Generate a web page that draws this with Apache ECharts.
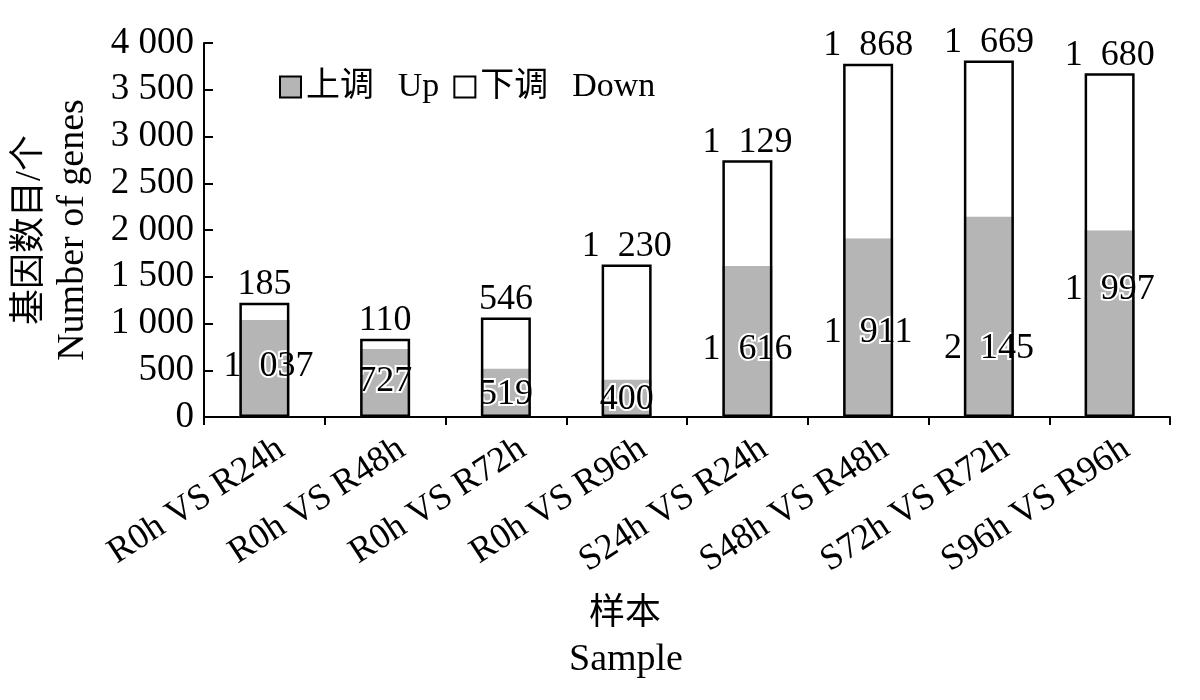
<!DOCTYPE html>
<html><head><meta charset="utf-8">
<script src="https://cdn.jsdelivr.net/npm/echarts@6/dist/echarts.min.js"></script>
<style>html,body{margin:0;padding:0;background:#fff}#c{width:1200px;height:700px}</style>
</head><body><div id="c"></div>
<script>
const categories = ['R0h VS R24h','R0h VS R48h','R0h VS R72h','R0h VS R96h','S24h VS R24h','S48h VS R48h','S72h VS R72h','S96h VS R96h'];
const upValues = [1037, 727, 519, 400, 1616, 1911, 2145, 1997];
const downValues = [185, 110, 546, 1230, 1129, 1868, 1669, 1680];
const yTickValues = [0, 500, 1000, 1500, 2000, 2500, 3000, 3500, 4000];
const yTickLabels = ['0', '500', '1 000', '1 500', '2 000', '2 500', '3 000', '3 500', '4 000'];
const seriesNames = ['上调 Up', '下调 Down'];
const yAxisNameLines = ['基因数目/个', 'Number of genes'];
const xAxisName = ['样本', 'Sample'];

// label placement tweaks (style only)
const upLabelOffsets = [[4, -2], [0, -1], [0, 2], [0, 1], [0, 8], [0, 5], [0, 32], [0, -34]];

const FONT = "'Liberation Serif','Noto Sans CJK SC',serif";
const GRAY = '#b5b5b5';
const SP = '\u2002';
function fmt(v) {
  if (v >= 1000) return Math.floor(v / 1000) + SP + String(v % 1000).padStart(3, '0');
  return String(v);
}
const totals = upValues.map((u, i) => u + downValues[i]);

const chart = echarts.init(document.getElementById('c'));
chart.setOption({
  animation: false,
  backgroundColor: '#fff',
  textStyle: { fontFamily: FONT, color: '#000' },
  grid: { left: 204, right: 30, top: 43, bottom: 283, containLabel: false },
  legend: {
    left: 274, top: 65,
    itemWidth: 21, itemHeight: 21, itemGap: 14,
    icon: 'rect',
    textStyle: { fontFamily: FONT, fontSize: 34, color: '#000' },
    formatter: n => n.replace(' ', '\u2002\u2009'),
    data: [
      { name: seriesNames[0], itemStyle: { color: GRAY, borderColor: '#000', borderWidth: 2 } },
      { name: seriesNames[1], itemStyle: { color: '#fff', borderColor: '#000', borderWidth: 2 } }
    ]
  },
  xAxis: {
    type: 'category',
    data: categories,
    boundaryGap: true,
    axisLine: { show: true, lineStyle: { color: '#000', width: 2 } },
    axisTick: { show: true, interval: 0, length: 8, lineStyle: { color: '#000', width: 2 } },
    axisLabel: {
      interval: 0, rotate: 33, fontSize: 36, fontFamily: FONT, color: '#000',
      margin: 40, padding: [0, -20, 0, 0]
    }
  },
  yAxis: {
    type: 'value',
    min: 0, max: 4000, interval: 500,
    name: '{a|' + yAxisNameLines[0] + '}\n{b|' + yAxisNameLines[1] + '}',
    nameLocation: 'middle',
    nameGap: 110,
    nameRotate: 90,
    nameTextStyle: {
      fontFamily: FONT, color: '#000',
      rich: {
        a: { fontFamily: FONT, fontSize: 36, lineHeight: 42, color: '#000' },
        b: { fontFamily: FONT, fontSize: 38, lineHeight: 42, color: '#000' }
      }
    },
    axisLine: { show: true, lineStyle: { color: '#000', width: 2 } },
    axisTick: { show: true, inside: true, length: 9, lineStyle: { color: '#000', width: 2 } },
    splitLine: { show: false },
    axisLabel: {
      fontSize: 37, fontFamily: FONT, color: '#000', margin: 10,
      formatter: v => { const i = yTickValues.indexOf(v); return i >= 0 ? yTickLabels[i] : ''; }
    }
  },
  series: [
    {
      name: seriesNames[0], type: 'bar', stack: 'g', barWidth: 50, barGap: '-100%', z: 3,
      itemStyle: { color: GRAY },
      label: {
        show: true, position: 'inside', formatter: p => fmt(p.value),
        fontSize: 36, fontFamily: FONT, color: '#000',
        textBorderColor: '#fff', textBorderWidth: 4
      },
      data: upValues.map((v, i) => ({ value: v, label: { offset: upLabelOffsets[i] } }))
    },
    {
      name: seriesNames[1], type: 'bar', stack: 'g', barWidth: 50, barGap: '-100%', z: 3,
      itemStyle: { color: '#fff' },
      label: {
        show: true, position: 'top', distance: 0, formatter: p => fmt(p.value),
        fontSize: 36, fontFamily: FONT, color: '#000'
      },
      data: downValues
    },
    {
      name: 'outline', type: 'bar', barWidth: 50, barGap: '-100%', z: 4, silent: true,
      itemStyle: { color: 'rgba(0,0,0,0)', borderColor: '#000', borderWidth: 2.5 },
      data: totals
    }
  ],
  graphic: [
    { type: 'text', x: 625, y: 615, style: { text: xAxisName[0], fontSize: 36, fontFamily: FONT, fill: '#000', align: 'center', verticalAlign: 'middle' } },
    { type: 'text', x: 626, y: 660, style: { text: xAxisName[1], fontSize: 38, fontFamily: FONT, fill: '#000', align: 'center', verticalAlign: 'middle' } }
  ]
});
</script></body></html>
